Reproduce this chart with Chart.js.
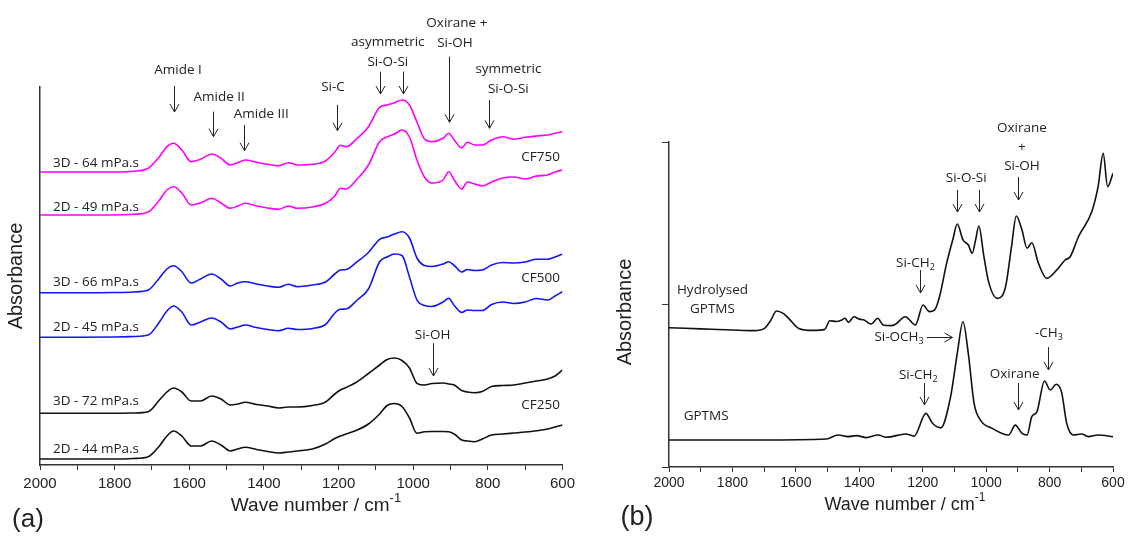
<!DOCTYPE html>
<html>
<head>
<meta charset="utf-8">
<script src="https://cdn.jsdelivr.net/npm/chart.js@4.4.1/dist/chart.umd.min.js"></script>
<style>
  body { margin: 0; background: #fff; }
  #wrap { position: relative; width: 1129px; height: 536px; overflow: hidden; }
  #chartA { position: absolute; left: 0; top: 0; }
  #chartB { position: absolute; left: 580px; top: 0; }
</style>
</head>
<body>
<div id="wrap">
  <canvas id="chartA" width="580" height="536"></canvas>
  <canvas id="chartB" width="549" height="536"></canvas>
</div>
<script>
// ---------- (a) fibroin / silica films, stacked spectra on a shared wave number grid
const wnA = [2000, 1900, 1800, 1750, 1710, 1680, 1660, 1642, 1620, 1595,
             1570, 1540, 1515, 1490, 1470, 1450, 1420, 1390, 1360, 1335,
             1310, 1270, 1235, 1210, 1195, 1180, 1150, 1120, 1090, 1070,
             1050, 1030, 1010, 990, 970, 950, 920, 905, 890, 870,
             855, 835, 815, 790, 760, 730, 700, 670, 640, 620, 600];

const cf750_3D = [2.93, 2.93, 2.93, 2.937, 2.967, 3.083, 3.183, 3.217, 3.15, 3.033,
                  3.057, 3.11, 3.067, 3.0, 3.023, 3.05, 3.027, 3.007, 2.993, 3.023,
                  3.0, 3.007, 3.04, 3.13, 3.197, 3.183, 3.267, 3.383, 3.577, 3.6,
                  3.623, 3.65, 3.6, 3.43, 3.26, 3.233, 3.267, 3.317, 3.25, 3.17,
                  3.227, 3.2, 3.2, 3.25, 3.283, 3.257, 3.277, 3.29, 3.30, 3.317, 3.333];
const cf750_2D = [2.50, 2.50, 2.50, 2.507, 2.53, 2.65, 2.75, 2.783, 2.72, 2.60,
                  2.62, 2.667, 2.62, 2.567, 2.59, 2.617, 2.59, 2.57, 2.557, 2.59,
                  2.567, 2.58, 2.617, 2.69, 2.767, 2.76, 2.86, 3.00, 3.233, 3.28,
                  3.31, 3.35, 3.28, 3.05, 2.88, 2.82, 2.85, 2.933, 2.85, 2.76,
                  2.83, 2.81, 2.79, 2.83, 2.87, 2.88, 2.86, 2.89, 2.90, 2.93, 2.95];
const cf500_3D = [1.723, 1.723, 1.725, 1.73, 1.75, 1.87, 1.96, 1.993, 1.933, 1.82,
                  1.86, 1.91, 1.86, 1.79, 1.82, 1.833, 1.81, 1.79, 1.777, 1.807,
                  1.783, 1.80, 1.83, 1.91, 1.95, 1.955, 2.033, 2.125, 2.257, 2.28,
                  2.31, 2.333, 2.27, 2.07, 1.995, 1.985, 2.01, 2.033, 1.995, 1.93,
                  1.955, 1.945, 1.95, 2.00, 2.025, 2.02, 2.03, 2.057, 2.057, 2.08, 2.11];
const cf500_2D = [1.277, 1.277, 1.28, 1.285, 1.30, 1.43, 1.54, 1.59, 1.53, 1.40,
                  1.43, 1.47, 1.43, 1.36, 1.38, 1.40, 1.375, 1.355, 1.343, 1.367,
                  1.355, 1.365, 1.405, 1.52, 1.557, 1.56, 1.65, 1.76, 2.033, 2.08,
                  2.11, 2.095, 1.88, 1.65, 1.595, 1.585, 1.63, 1.667, 1.595, 1.525,
                  1.55, 1.545, 1.545, 1.605, 1.63, 1.615, 1.63, 1.665, 1.65, 1.69, 1.733];
const cf250_3D = [0.517, 0.517, 0.517, 0.52, 0.533, 0.65, 0.73, 0.77, 0.73, 0.64,
                  0.64, 0.69, 0.66, 0.60, 0.61, 0.627, 0.605, 0.59, 0.57, 0.58,
                  0.58, 0.595, 0.63, 0.71, 0.75, 0.775, 0.833, 0.915, 1.00, 1.055,
                  1.07, 1.045, 0.97, 0.817, 0.80, 0.815, 0.82, 0.81, 0.80, 0.745,
                  0.73, 0.723, 0.735, 0.785, 0.795, 0.80, 0.82, 0.84, 0.86, 0.89, 0.95];
const cf250_2D = [0.06, 0.06, 0.06, 0.065, 0.083, 0.19, 0.29, 0.34, 0.29, 0.19,
                  0.19, 0.24, 0.20, 0.14, 0.16, 0.177, 0.155, 0.135, 0.12, 0.13,
                  0.14, 0.16, 0.21, 0.265, 0.29, 0.31, 0.35, 0.41, 0.51, 0.595,
                  0.615, 0.585, 0.47, 0.317, 0.332, 0.335, 0.335, 0.333, 0.31, 0.25,
                  0.24, 0.233, 0.26, 0.30, 0.31, 0.32, 0.33, 0.343, 0.36, 0.38, 0.40];

const seriesA = [
  { name: '3D - 64 mPa.s', values: cf750_3D, color: '#ff00ff' },
  { name: '2D - 49 mPa.s', values: cf750_2D, color: '#ff00ff' },
  { name: '3D - 66 mPa.s', values: cf500_3D, color: '#1414f5' },
  { name: '2D - 45 mPa.s', values: cf500_2D, color: '#1414f5' },
  { name: '3D - 72 mPa.s', values: cf250_3D, color: '#111111' },
  { name: '2D - 44 mPa.s', values: cf250_2D, color: '#111111' }
];

// ---------- (b) GPTMS before and after hydrolysis
const wnHyd = [2000, 1900, 1800, 1731, 1699, 1680, 1661, 1640, 1623, 1591,
               1547, 1509, 1493, 1472, 1455, 1445, 1434, 1417, 1400, 1385,
               1363, 1342, 1325, 1300, 1287, 1255, 1223, 1199, 1179, 1163,
               1147, 1125, 1105, 1091, 1073, 1056, 1044, 1033, 1023, 1007,
               991, 965, 939, 920, 905, 887, 871, 856, 835, 809,
               777, 751, 735, 709, 667, 647, 631, 617, 600];
const hydrolysed = [0.857, 0.85, 0.843, 0.839, 0.853, 0.90, 0.96, 0.945, 0.915, 0.853,
                    0.841, 0.847, 0.90, 0.895, 0.905, 0.915, 0.89, 0.925, 0.91, 0.904,
                    0.88, 0.915, 0.874, 0.87, 0.877, 0.925, 0.874, 0.997, 0.956, 0.965,
                    1.048, 1.25, 1.40, 1.495, 1.397, 1.366, 1.315, 1.40, 1.483, 1.294,
                    1.13, 1.038, 1.108, 1.356, 1.545, 1.459, 1.346, 1.38, 1.253, 1.161,
                    1.213, 1.274, 1.294, 1.417, 1.571, 1.725, 1.93, 1.725, 1.807];

const wnGptms = [2000, 1712, 1504, 1467, 1436, 1409, 1378, 1341, 1315, 1253,
                 1227, 1190, 1169, 1143, 1112, 1091, 1073, 1056, 1038, 1018,
                 981, 929, 908, 887, 871, 856, 840, 816, 798, 779,
                 762, 746, 725, 699, 678, 647, 600];
const gptms = [0.166, 0.166, 0.172, 0.197, 0.187, 0.193, 0.181, 0.197, 0.183, 0.203,
               0.19, 0.33, 0.269, 0.241, 0.433, 0.70, 0.894, 0.694, 0.392, 0.289,
               0.238, 0.197, 0.258, 0.207, 0.197, 0.31, 0.339, 0.529, 0.474, 0.509,
               0.459, 0.269, 0.197, 0.203, 0.187, 0.197, 0.187];

// ---------- band assignments (text at wave number / absorbance, arrows as spans)
const notesA = [
  { t: ['Amide I'], wn: 1630, v: 3.95 },
  { t: ['Amide II'], wn: 1520, v: 3.683 },
  { t: ['Amide III'], wn: 1407, v: 3.51 },
  { t: ['Si-C'], wn: 1215, v: 3.777 },
  { t: ['asymmetric'], wn: 1068, v: 4.233 },
  { t: ['Si-O-Si'], wn: 1068, v: 4.033 },
  { t: ['Oxirane +'], wn: 883, v: 4.423 },
  { t: ['Si-OH'], wn: 888, v: 4.223 },
  { t: ['symmetric'], wn: 745, v: 3.957 },
  { t: ['Si-O-Si'], wn: 745, v: 3.757 },
  { t: ['Si-OH'], wn: 948, v: 1.30 },
  { t: ['CF750'], wn: 607, v: 3.083, align: 'right' },
  { t: ['CF500'], wn: 607, v: 1.867, align: 'right' },
  { t: ['CF250'], wn: 607, v: 0.60, align: 'right' },
  { t: ['3D - 64 mPa.s'], wn: 1965, v: 3.023, align: 'left' },
  { t: ['2D - 49 mPa.s'], wn: 1965, v: 2.583, align: 'left' },
  { t: ['3D - 66 mPa.s'], wn: 1965, v: 1.827, align: 'left' },
  { t: ['2D - 45 mPa.s'], wn: 1965, v: 1.377, align: 'left' },
  { t: ['3D - 72 mPa.s'], wn: 1965, v: 0.643, align: 'left' },
  { t: ['2D - 44 mPa.s'], wn: 1965, v: 0.16, align: 'left' }
];
const arrowsA = [
  { wn: 1642, from: 3.79, to: 3.53 },
  { wn: 1537, from: 3.533, to: 3.283 },
  { wn: 1453, from: 3.40, to: 3.143 },
  { wn: 1205, from: 3.60, to: 3.343 },
  { wn: 1088, from: 3.933, to: 3.71 },
  { wn: 1027, from: 3.933, to: 3.71 },
  { wn: 905, from: 4.083, to: 3.427 },
  { wn: 798, from: 3.65, to: 3.367 },
  { wn: 948, from: 1.217, to: 0.89 }
];

const notesB = [
  { t: ['Oxirane'], wn: 887, v: 2.086 },
  { t: ['+'], wn: 887, v: 1.969 },
  { t: ['Si-OH'], wn: 887, v: 1.852 },
  { t: ['Si-O-Si'], wn: 1063, v: 1.778 },
  { t: ['Si-CH', '_2'], wn: 1223, v: 1.255 },
  { t: ['Hydrolysed'], wn: 1863, v: 1.089 },
  { t: ['GPTMS'], wn: 1863, v: 0.972 },
  { t: ['Si-OCH', '_3'], wn: 1197, v: 0.80, align: 'right' },
  { t: ['-CH', '_3'], wn: 802, v: 0.825 },
  { t: ['Si-CH', '_2'], wn: 1214, v: 0.566 },
  { t: ['Oxirane'], wn: 910, v: 0.572 },
  { t: ['GPTMS'], wn: 1883, v: 0.314 }
];
const arrowsB = [
  { wn: 900, from: 1.785, to: 1.643 },
  { wn: 1093, from: 1.705, to: 1.569 },
  { wn: 1021, from: 1.705, to: 1.569 },
  { wn: 1207, from: 1.212, to: 1.071 },
  { wn: 806, from: 0.738, to: 0.597 },
  { wn: 1197, from: 0.517, to: 0.382 },
  { wn: 900, from: 0.517, to: 0.351 }
];
const sideArrowsB = [{ from: 1187, to: 1106, v: 0.80 }];

const AXIS_FONT = '"Liberation Sans", Arial, sans-serif';
const NOTE_FONT = '"Open Sans", sans-serif';
const INK = '#222';

Chart.defaults.font.family = AXIS_FONT;
Chart.defaults.color = INK;

// text with optional sub/superscript pieces ('_2' / '^-1')
function drawRich(ctx, parts, x, y, align, size, family) {
  const segs = parts.map(p => {
    const shift = p[0] === '_' ? 1 : (p[0] === '^' ? -1 : 0);
    const text = shift ? p.slice(1) : p;
    const fs = shift ? Math.round(size * 0.68) : size;
    ctx.font = fs + 'px ' + family;
    return { text, shift, fs, w: ctx.measureText(text).width };
  });
  const total = segs.reduce((s, g) => s + g.w, 0);
  let cx = align === 'left' ? x : (align === 'right' ? x - total : x - total / 2);
  ctx.textAlign = 'left';
  ctx.textBaseline = 'middle';
  segs.forEach(g => {
    ctx.font = g.fs + 'px ' + family;
    const dy = g.shift > 0 ? size * 0.32 : (g.shift < 0 ? -size * 0.4 : 0);
    ctx.fillText(g.text, cx, y + dy);
    cx += g.w;
  });
}

function arrowDown(ctx, x, y1, y2) {
  ctx.beginPath();
  ctx.moveTo(x, y1); ctx.lineTo(x, y2);
  ctx.moveTo(x - 4.5, y2 - 8); ctx.lineTo(x, y2); ctx.lineTo(x + 4.5, y2 - 8);
  ctx.stroke();
}

function arrowRight(ctx, x1, x2, y) {
  ctx.beginPath();
  ctx.moveTo(x1, y); ctx.lineTo(x2, y);
  ctx.moveTo(x2 - 8, y - 4.5); ctx.lineTo(x2, y); ctx.lineTo(x2 - 8, y + 4.5);
  ctx.stroke();
}

function notesPlugin(notes, arrows, sideArrows, noteSize, frame) {
  return {
    id: 'notes',
    afterDraw(chart) {
      const { ctx } = chart;
      const xs = chart.scales.x, ys = chart.scales.y;
      ctx.save();
      ctx.fillStyle = INK;
      ctx.strokeStyle = INK;
      ctx.lineWidth = 1;
      notes.forEach(n => drawRich(ctx, n.t, xs.getPixelForValue(n.wn), ys.getPixelForValue(n.v),
                                  n.align || 'center', noteSize, NOTE_FONT));
      arrows.forEach(a => arrowDown(ctx, Math.round(xs.getPixelForValue(a.wn)) + 0.5,
                                    ys.getPixelForValue(a.from), ys.getPixelForValue(a.to)));
      sideArrows.forEach(a => arrowRight(ctx, xs.getPixelForValue(a.from), xs.getPixelForValue(a.to),
                                         Math.round(ys.getPixelForValue(a.v)) + 0.5));
      // axis titles and panel letter
      drawRich(ctx, ['Wave number / cm', '^-1'], frame.titleX, frame.titleY, 'center', frame.titleSize, AXIS_FONT);
      ctx.save();
      ctx.translate(frame.yTitleX, frame.yTitleY);
      ctx.rotate(-Math.PI / 2);
      drawRich(ctx, ['Absorbance'], 0, 0, 'center', 20, AXIS_FONT);
      ctx.restore();
      drawRich(ctx, [frame.letter], frame.letterX, frame.letterY, 'center', frame.letterSize, AXIS_FONT);
      ctx.restore();
    }
  };
}

function lineSet(label, xs, ys, color) {
  return {
    label,
    data: xs.map((w, i) => ({ x: w, y: ys[i] })),
    borderColor: color,
    borderWidth: 1.6,
    pointRadius: 0,
    fill: false,
    cubicInterpolationMode: 'monotone'
  };
}

function xAxis(height, size, pad) {
  return {
    type: 'linear', reverse: true, min: 600, max: 2000,
    afterFit: s => { s.height = height; },
    border: { display: true, color: '#333', width: 1.5 },
    grid: { display: true, drawOnChartArea: false, drawTicks: true, tickLength: 5, color: '#333', lineWidth: 1 },
    ticks: {
      stepSize: 100, autoSkip: false, maxRotation: 0, padding: pad, color: INK,
      font: { size },
      callback: v => (v % 200 === 0 ? String(v) : '')
    }
  };
}

const baseOpts = {
  responsive: false,
  animation: false,
  devicePixelRatio: 1,
  plugins: { legend: { display: false }, tooltip: { enabled: false } }
};

new Chart(document.getElementById('chartA'), {
  type: 'line',
  data: { datasets: seriesA.map(s => lineSet(s.name, wnA, s.values, s.color)) },
  options: {
    ...baseOpts,
    layout: { padding: { top: 87, right: 17, left: 0, bottom: 0 } },
    scales: {
      x: xAxis(71, 15, 5),
      y: {
        min: 0, max: 3.78,
        afterFit: s => { s.width = 40; },
        border: { display: true, color: '#333', width: 1.5 },
        grid: { display: false },
        ticks: { display: false }
      }
    }
  },
  plugins: [notesPlugin(notesA, arrowsA, [], 13.5, {
    titleX: 316, titleY: 506, titleSize: 19,
    yTitleX: 16, yTitleY: 276,
    letter: '(a)', letterX: 28, letterY: 520, letterSize: 26
  })]
});

new Chart(document.getElementById('chartB'), {
  type: 'line',
  data: {
    datasets: [
      lineSet('Hydrolysed GPTMS', wnHyd, hydrolysed, '#111111'),
      lineSet('GPTMS', wnGptms, gptms, '#111111')
    ]
  },
  options: {
    ...baseOpts,
    layout: { padding: { top: 142, right: 16, left: 0, bottom: 0 } },
    scales: {
      x: xAxis(69, 14, 3),
      y: {
        min: 0, max: 2,
        afterFit: s => { s.width = 89; },
        border: { display: true, color: '#333', width: 1.5 },
        grid: { display: true, drawOnChartArea: false, drawTicks: true, tickLength: 7, color: '#333' },
        ticks: { display: false, stepSize: 1 }
      }
    }
  },
  plugins: [notesPlugin(notesB, arrowsB, sideArrowsB, 13.5, {
    titleX: 325, titleY: 505, titleSize: 18,
    yTitleX: 45, yTitleY: 312,
    letter: '(b)', letterX: 57, letterY: 518, letterSize: 27
  })]
});
</script>
</body>
</html>
